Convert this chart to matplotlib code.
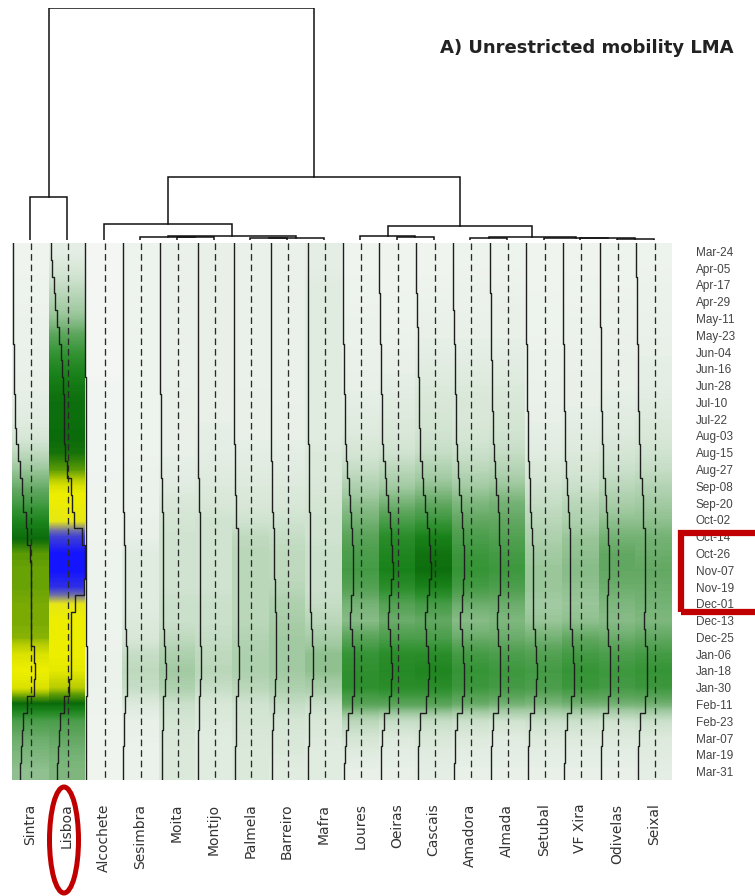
import numpy as np
import matplotlib
matplotlib.use("Agg")
import matplotlib.pyplot as plt
from matplotlib.colors import LinearSegmentedColormap, Normalize
from matplotlib.patches import Rectangle, Ellipse

plt.rcParams['font.family'] = ['Liberation Sans', 'DejaVu Sans']

# ---------------- data ----------------
municipalities = ["Sintra", "Lisboa", "Alcochete", "Sesimbra", "Moita", "Montijo",
                  "Palmela", "Barreiro", "Mafra", "Loures", "Oeiras", "Cascais",
                  "Amadora", "Almada", "Setubal", "VF Xira", "Odivelas", "Seixal"]

dates = ["Mar-24", "Apr-05", "Apr-17", "Apr-29", "May-11", "May-23", "Jun-04", "Jun-16",
         "Jun-28", "Jul-10", "Jul-22", "Aug-03", "Aug-15", "Aug-27", "Sep-08", "Sep-20",
         "Oct-02", "Oct-14", "Oct-26", "Nov-07", "Nov-19", "Dec-01", "Dec-13", "Dec-25",
         "Jan-06", "Jan-18", "Jan-30", "Feb-11", "Feb-23", "Mar-07", "Mar-19", "Mar-31"]

sintra    = [0.02,0.02,0.03,0.03,0.04,0.04,0.05,0.05,0.06,0.07,0.08,0.10,0.15,0.21,0.26,0.31,
             0.37,0.42,0.50,0.51,0.51,0.52,0.52,0.53,0.60,0.62,0.60,0.42,0.30,0.26,0.24,0.22]
lisboa    = [0.07,0.10,0.14,0.18,0.22,0.28,0.33,0.37,0.40,0.42,0.42,0.43,0.44,0.50,0.60,0.64,
             0.70,0.92,1.00,1.00,0.95,0.72,0.62,0.62,0.62,0.61,0.56,0.42,0.30,0.27,0.25,0.24]
alcochete = [0.00,0.00,0.00,0.00,0.00,0.00,0.00,0.00,0.01,0.01,0.01,0.01,0.01,0.01,0.02,0.02,
             0.02,0.02,0.03,0.03,0.03,0.03,0.03,0.03,0.04,0.04,0.04,0.03,0.02,0.02,0.02,0.02]
sesimbra  = [0.03,0.03,0.03,0.03,0.03,0.03,0.03,0.03,0.03,0.03,0.03,0.03,0.03,0.04,0.04,0.04,
             0.05,0.06,0.08,0.08,0.08,0.08,0.09,0.10,0.14,0.15,0.14,0.09,0.06,0.05,0.04,0.04]
moita     = [0.05,0.05,0.05,0.05,0.05,0.05,0.05,0.05,0.05,0.06,0.06,0.06,0.06,0.07,0.08,0.10,
             0.11,0.12,0.12,0.12,0.12,0.13,0.13,0.15,0.18,0.20,0.18,0.13,0.11,0.10,0.09,0.09]
montijo   = [0.06,0.06,0.06,0.06,0.06,0.06,0.06,0.06,0.06,0.06,0.06,0.07,0.07,0.08,0.09,0.10,
             0.12,0.12,0.12,0.12,0.12,0.13,0.13,0.14,0.15,0.16,0.14,0.10,0.09,0.08,0.08,0.08]
palmela   = [0.05,0.05,0.05,0.05,0.05,0.05,0.05,0.05,0.05,0.06,0.06,0.06,0.07,0.08,0.09,0.10,
             0.12,0.15,0.16,0.16,0.16,0.16,0.16,0.17,0.18,0.18,0.16,0.12,0.11,0.10,0.09,0.09]
barreiro  = [0.05,0.05,0.05,0.05,0.05,0.05,0.05,0.05,0.05,0.05,0.06,0.06,0.07,0.08,0.09,0.10,
             0.12,0.14,0.15,0.15,0.16,0.18,0.19,0.20,0.20,0.20,0.18,0.14,0.11,0.10,0.09,0.08]
mafra     = [0.07,0.07,0.08,0.08,0.08,0.08,0.08,0.08,0.08,0.08,0.08,0.08,0.09,0.09,0.10,0.11,
             0.12,0.12,0.13,0.13,0.13,0.14,0.16,0.19,0.22,0.22,0.19,0.13,0.10,0.09,0.08,0.08]
loures    = [0.02,0.02,0.03,0.03,0.04,0.04,0.05,0.05,0.06,0.07,0.08,0.09,0.11,0.14,0.18,0.22,
             0.25,0.28,0.30,0.31,0.29,0.25,0.23,0.28,0.33,0.34,0.34,0.28,0.16,0.11,0.08,0.06]
oeiras    = [0.02,0.02,0.02,0.03,0.03,0.04,0.05,0.06,0.07,0.08,0.09,0.10,0.12,0.16,0.20,0.25,
             0.30,0.35,0.37,0.38,0.35,0.29,0.26,0.30,0.35,0.36,0.35,0.28,0.14,0.09,0.07,0.06]
cascais   = [0.02,0.02,0.03,0.04,0.05,0.06,0.07,0.08,0.09,0.10,0.11,0.12,0.14,0.18,0.22,0.27,
             0.32,0.38,0.41,0.42,0.38,0.31,0.27,0.30,0.35,0.37,0.35,0.28,0.14,0.10,0.08,0.07]
amadora   = [0.03,0.03,0.04,0.04,0.05,0.06,0.07,0.08,0.09,0.10,0.10,0.11,0.13,0.16,0.20,0.24,
             0.27,0.30,0.32,0.33,0.31,0.26,0.23,0.26,0.31,0.33,0.32,0.26,0.13,0.09,0.07,0.06]
almada    = [0.03,0.03,0.04,0.05,0.06,0.06,0.07,0.08,0.09,0.10,0.11,0.12,0.14,0.17,0.21,0.25,
             0.27,0.29,0.31,0.32,0.30,0.26,0.24,0.26,0.30,0.32,0.31,0.25,0.12,0.08,0.07,0.06]
setubal   = [0.02,0.02,0.02,0.03,0.03,0.03,0.04,0.04,0.05,0.05,0.06,0.07,0.08,0.10,0.12,0.14,
             0.16,0.18,0.20,0.21,0.21,0.20,0.21,0.25,0.29,0.31,0.30,0.24,0.13,0.09,0.07,0.06]
vfxira    = [0.02,0.02,0.03,0.03,0.04,0.04,0.05,0.05,0.06,0.06,0.07,0.08,0.09,0.11,0.13,0.16,
             0.18,0.21,0.22,0.23,0.22,0.21,0.22,0.27,0.31,0.33,0.32,0.25,0.13,0.09,0.07,0.06]
odivelas  = [0.03,0.03,0.03,0.04,0.04,0.05,0.05,0.06,0.06,0.07,0.08,0.09,0.11,0.13,0.16,0.19,
             0.22,0.25,0.27,0.27,0.26,0.24,0.23,0.26,0.30,0.32,0.31,0.25,0.12,0.09,0.07,0.06]
seixal    = [0.03,0.03,0.04,0.04,0.05,0.05,0.06,0.07,0.07,0.08,0.09,0.10,0.12,0.14,0.17,0.20,
             0.22,0.25,0.26,0.27,0.26,0.25,0.24,0.27,0.31,0.33,0.32,0.25,0.13,0.09,0.08,0.07]

columns = [sintra, lisboa, alcochete, sesimbra, moita, montijo, palmela, barreiro, mafra,
           loures, oeiras, cascais, amadora, almada, setubal, vfxira, odivelas, seixal]

# dendrogram merges: (child_a, child_b, height); leaves are 0..17, new nodes from 18
merges = [(0, 1, 18.5),
          (4, 5, 1.1),
          (3, 19, 1.3),
          (6, 7, 0.7),
          (21, 8, 1.0),
          (20, 22, 1.9),
          (2, 23, 6.9),
          (10, 11, 1.2),
          (9, 25, 1.7),
          (12, 13, 1.0),
          (16, 17, 0.6),
          (15, 28, 0.8),
          (14, 29, 1.0),
          (27, 30, 1.3),
          (26, 31, 6.0),
          (24, 32, 27.2),
          (18, 33, 100.0)]

trace_ref = 0.53

# ---------------- figure ----------------
W, H = 755, 896
fig = plt.figure(figsize=(W / 100, H / 100), dpi=100)

def fx(px):
    return px / W

def fy(py):
    return 1 - py / H

hm_l, hm_r, hm_t, hm_b = 12, 672, 243, 780
ax = fig.add_axes([fx(hm_l), fy(hm_b), fx(hm_r - hm_l), (hm_b - hm_t) / H])

cmap = LinearSegmentedColormap.from_list("hm", [
    (0.00, "#f3f6f3"), (0.06, "#e8f0e8"), (0.12, "#d0e3d0"), (0.20, "#a2caa2"),
    (0.27, "#62a862"), (0.33, "#359435"), (0.38, "#1a821a"), (0.43, "#0a6a0a"),
    (0.50, "#5a9a06"), (0.56, "#b6cc00"), (0.62, "#eeee00"), (0.72, "#e6e618"),
    (0.85, "#6a6ab0"), (1.00, "#1414ff")])
norm = Normalize(0, 1)

nrow = len(dates)
ncol = len(municipalities)
for i, col in enumerate(columns):
    v = np.array(col)[:, None]
    ax.imshow(v, cmap=cmap, norm=norm, extent=(i, i + 1, nrow, 0), origin="upper",
              interpolation="bilinear", aspect="auto")
    # dashed reference line
    ax.plot([i + trace_ref, i + trace_ref], [0, nrow], color="#2a2a2a", lw=0.95,
            linestyle=(0, (5, 3)), zorder=3)
    # step trace
    xs, ys = [], []
    for j, val in enumerate(col):
        xs += [i + val, i + val]
        ys += [j, j + 1]
    ax.plot(xs, ys, color="#1e1e1e", lw=1.0, zorder=4)

ax.set_xlim(0, ncol)
ax.set_ylim(nrow, 0)
for s in ax.spines.values():
    s.set_visible(False)
ax.set_yticks(np.arange(nrow) + 0.5)
ax.set_yticklabels(dates, fontsize=8.5, color="#444444")
ax.yaxis.tick_right()
ax.tick_params(axis="y", length=0, pad=17)
ax.set_xticks(np.arange(ncol) + 0.5)
ax.set_xticklabels(municipalities, rotation=90, fontsize=10, color="#333333",
                   family="DejaVu Sans")
ax.tick_params(axis="x", length=0, pad=17)

# ---------------- dendrogram ----------------
dax = fig.add_axes([fx(hm_l), fy(240), fx(hm_r - hm_l), (240 - 8) / H])
pos = {i: i + 0.5 for i in range(ncol)}
hgt = {i: 0.0 for i in range(ncol)}
for k, (a, b, h) in enumerate(merges):
    node = ncol + k
    xa, xb = pos[a], pos[b]
    dax.plot([xa, xa, xb, xb], [hgt[a], h, h, hgt[b]], color="#111111", lw=1.1,
             solid_joinstyle="miter")
    pos[node] = (xa + xb) / 2
    hgt[node] = h
dax.set_xlim(0, ncol)
dax.set_ylim(0, max(m[2] for m in merges))
dax.axis("off")

# ---------------- title ----------------
fig.text(fx(587), fy(48), "A) Unrestricted mobility LMA", ha="center", va="center",
         fontsize=13, fontweight="bold", color="#222222", family="DejaVu Sans")

# ---------------- annotations ----------------
fig.patches.append(Rectangle((fx(681), fy(612)), fx(100), (612 - 533) / H,
                             transform=fig.transFigure, fill=False,
                             edgecolor="#c00000", lw=4.5))
fig.patches.append(Ellipse((fx(64), fy(840)), fx(29), 106 / H,
                           transform=fig.transFigure, fill=False,
                           edgecolor="#c00000", lw=3.6))

fig.savefig("out.png", dpi=100)
